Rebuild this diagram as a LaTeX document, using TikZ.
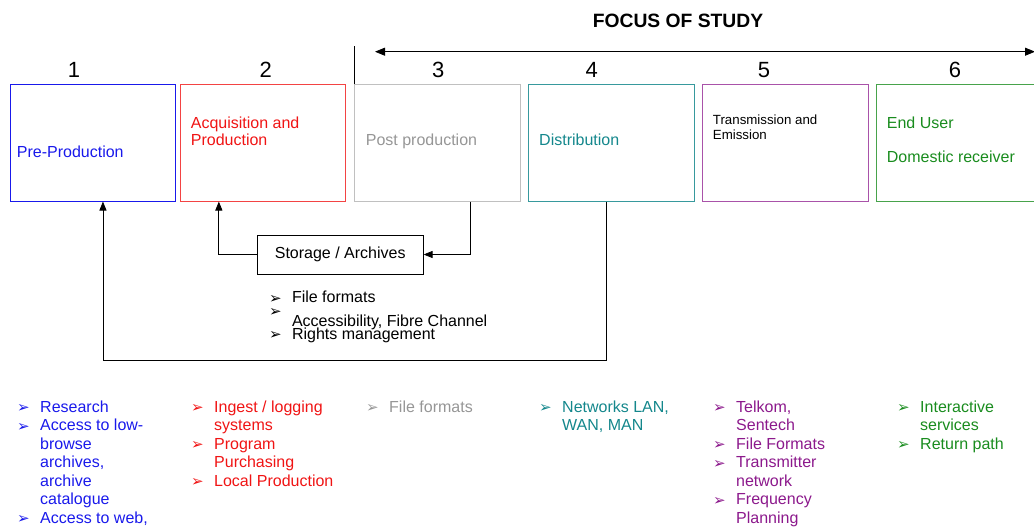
\documentclass[tikz,border=0pt]{standalone}
\usepackage{fontspec}
\setmainfont{Liberation Sans}
\newfontfamily\dingfont{DejaVu Sans}
\usetikzlibrary{arrows.meta,positioning}

\definecolor{preblue}{RGB}{25,25,235}
\definecolor{acqred}{RGB}{240,20,20}
\definecolor{postgray}{RGB}{150,150,150}
\definecolor{distteal}{RGB}{20,135,140}
\definecolor{transpurple}{RGB}{140,25,140}
\definecolor{endgreen}{RGB}{25,140,30}

\newcommand{\bul}{\makebox[23pt][l]{\raisebox{-0.5pt}{\dingfont\fontsize{15}{15}\selectfont ➢}}}
\newcommand{\ind}{\hspace*{23pt}}
\newcommand{\lines}[1]{\begin{tabular}[t]{@{}l@{}}#1\end{tabular}}

\begin{document}
\begin{tikzpicture}[
   x=1pt, y=-1pt,
   stage/.style={draw, line width=0.8pt, anchor=north west, inner sep=0pt,
                 minimum width=165.5pt, minimum height=116.5pt},
   label/.style={anchor=base west, inner sep=0pt,
                 font=\fontsize{16}{16.7}\selectfont},
   num/.style={anchor=base, inner sep=0pt, font=\fontsize{22}{22}\selectfont},
   list/.style={anchor=base west, inner sep=0pt,
                font=\fontsize{16}{18.5}\selectfont},
   storebox/.style={draw, line width=0.8pt, minimum width=166pt, minimum height=39pt,
                    inner sep=0pt, font=\fontsize{16}{16}\selectfont},
   arrow/.style={-{Triangle[length=9pt,width=7pt]}, line width=0.8pt}
]
\useasboundingbox (0,0) rectangle (1034,527);

% Nodes
\node[anchor=base, inner sep=0pt, font=\fontsize{19.3}{19.3}\selectfont\bfseries]
   (focus) at (678,27.3) {FOCUS OF STUDY};

\node[stage, draw=preblue] (pre) at (9.8,84.2) {};
\node[stage, draw=acqred!80] (acq) at (179.7,84.2) {};
\node[stage, draw=postgray!60] (post) at (354.3,84.2) {};
\node[stage, draw=distteal!85] (dist) at (528.3,84.2) {};
\node[stage, draw=transpurple!75] (trans) at (702.3,84.2) {};
\node[stage, draw=endgreen!80] (user) at (876.3,84.2) {};

\node[num] (n1) at (74,77.3) {1};
\node[num] (n2) at (265.7,77.3) {2};
\node[num] (n3) at (438.3,77.3) {3};
\node[num] (n4) at (591.7,77.3) {4};
\node[num] (n5) at (764,77.3) {5};
\node[num] (n6) at (955,77.3) {6};

\node[label, preblue] (prelab) at (16.7,157) {Pre-Production};
\node[label, acqred] (acqlab) at (190.7,128.3) {\lines{Acquisition and\\Production}};
\node[label, postgray] (postlab) at (365.7,145) {Post production};
\node[label, distteal] (distlab) at (539,145) {Distribution};
\node[label, font=\fontsize{13.3}{15.7}\selectfont] (translab) at (712.7,124.3)
   {\lines{Transmission and\\Emission}};
\node[label, endgreen] (userlab) at (886.7,128.3) {End User};
\node[label, endgreen] (recvlab) at (886.7,162.3) {Domestic receiver};

\node[storebox] (store) at (340.2,254.5) {Storage / Archives};
\node[list] (ff) at (268.8,302.7) {\bul File formats};
\node[list] (acc) at (268.8,326) {\raisebox{10pt}{\bul}Accessibility, Fibre Channel};
\node[list] (rights) at (268.8,339.3) {\bul Rights management};

\node[list, preblue] (l1) at (17,412)
   {\lines{\bul Research\\\bul Access to low-\\\ind browse\\\ind archives,\\
    \ind archive\\\ind catalogue\\\bul Access to web,}};
\node[list, acqred] (l2) at (191,412)
   {\lines{\bul Ingest / logging\\\ind systems\\\bul Program\\\ind Purchasing\\
    \bul Local Production}};
\node[list, postgray] (l3) at (366,412) {\bul File formats};
\node[list, distteal] (l4) at (539,412) {\lines{\bul Networks LAN,\\\ind WAN, MAN}};
\node[list, transpurple] (l5) at (713,412)
   {\lines{\bul Telkom,\\\ind Sentech\\\bul File Formats\\\bul Transmitter\\
    \ind network\\\bul Frequency\\\ind Planning}};
\node[list, endgreen] (l6) at (897,412)
   {\lines{\bul Interactive\\\ind services\\\bul Return path}};

\coordinate (fs) at (375,51.7);
\coordinate (fe) at (1035,51.7);

% Edges
\draw[{Triangle[length=10pt,width=8pt]}-{Triangle[length=10pt,width=8pt]}, line width=0.8pt]
   (fs) -- (fe);
\draw[line width=1.4pt] (post.north west) -- ++(0,-38);
\draw[arrow] ([xshift=32.8pt]post.south) |- (store.east);
\draw[arrow] (store.west) -| ([xshift=-44pt]acq.south);
\draw[arrow] ([xshift=-5.5pt]dist.south) -- ++(0,159) -| ([xshift=10pt]pre.south);

\end{tikzpicture}
\end{document}
